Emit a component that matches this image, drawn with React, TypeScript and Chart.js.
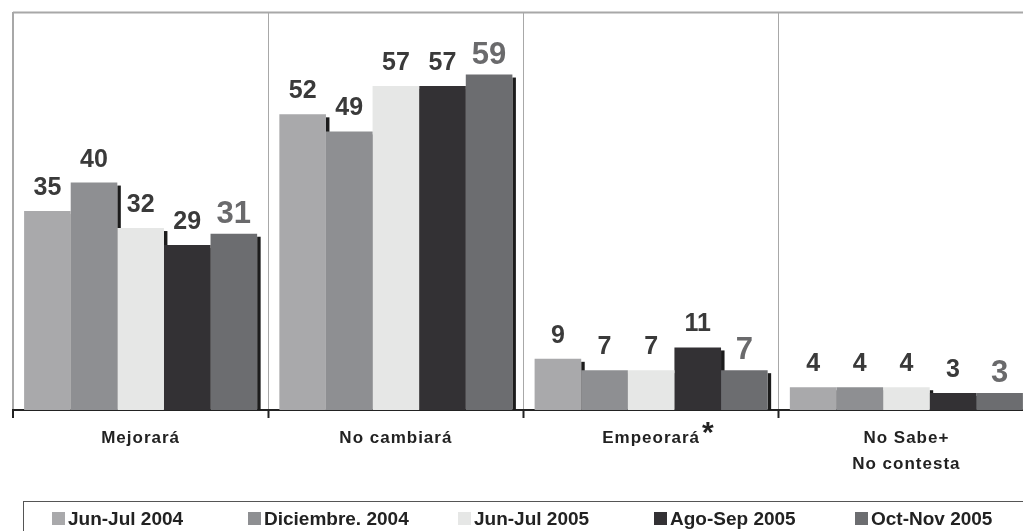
import React, { useEffect, useRef } from 'react';
import { Chart, registerables } from 'chart.js';

Chart.register(...registerables);

const FONT = '"Liberation Sans", Arial, Helvetica, sans-serif';

const categories: string[][] = [['Mejorará'], ['No cambiará'], ['Empeorará'], ['No Sabe+', 'No contesta']];
const seriesNames = ['Jun-Jul 2004', 'Diciembre. 2004', 'Jun-Jul 2005', 'Ago-Sep 2005', 'Oct-Nov 2005'];
const junJul2004 = [35, 52, 9, 4];
const diciembre2004 = [40, 49, 7, 4];
const junJul2005 = [32, 57, 7, 4];
const agoSep2005 = [29, 57, 11, 3];
const octNov2005 = [31, 59, 7, 3];
const seriesValues = [junJul2004, diciembre2004, junJul2005, agoSep2005, octNov2005];
const seriesColors = ['#a9a9ab', '#8e8f92', '#e6e7e6', '#333134', '#6c6d70'];
const asteriskCategory = 2;

const legendLeft = [52, 248, 458, 654, 855];

const shadowPlugin = {
  id: 'barShadow',
  beforeDraw(chart: any) {
    chart.ctx.letterSpacing = '1px';
  },
  beforeDatasetsDraw(chart: any) {
    const ctx = chart.ctx;
    ctx.letterSpacing = '0px';
    ctx.save();
    const a = chart.chartArea;
    ctx.strokeStyle = '#a8a8a8';
    ctx.lineWidth = 2;
    ctx.beginPath();
    ctx.moveTo(a.left, a.top + 0.5);
    ctx.lineTo(a.right, a.top + 0.5);
    ctx.stroke();
    ctx.fillStyle = '#1c1c1c';
    chart.data.datasets.forEach((_ds: any, i: number) => {
      const meta = chart.getDatasetMeta(i);
      meta.data.forEach((bar: any) => {
        const { x, y, width, base } = bar.getProps(['x', 'y', 'width', 'base'], true);
        ctx.fillRect(x + width / 2, y + 3, 3.5, base - y - 3);
      });
    });
    ctx.restore();
  },
  afterDatasetsDraw(chart: any) {
    const ctx = chart.ctx;
    ctx.save();
    ctx.letterSpacing = '0px';
    ctx.textAlign = 'center';
    ctx.textBaseline = 'alphabetic';
    chart.data.datasets.forEach((ds: any, i: number) => {
      const meta = chart.getDatasetMeta(i);
      const last = i === chart.data.datasets.length - 1;
      ctx.font = last ? `bold 31px ${FONT}` : `bold 25px ${FONT}`;
      ctx.fillStyle = last ? '#6a6a6c' : '#3a3a3a';
      meta.data.forEach((bar: any, j: number) => {
        const { x, y } = bar.getProps(['x', 'y'], true);
        ctx.fillText(String(ds.data[j]), x, y - (last ? 11 : 16));
      });
    });
    const xs = chart.scales.x;
    const cx = xs.getPixelForValue(asteriskCategory);
    ctx.font = `bold 17px ${FONT}`;
    ctx.letterSpacing = '1px';
    const w = ctx.measureText(categories[asteriskCategory][0]).width;
    ctx.letterSpacing = '0px';
    ctx.font = `bold 30px ${FONT}`;
    ctx.fillStyle = '#222';
    ctx.textAlign = 'left';
    ctx.fillText('*', cx + w / 2 + 2, 442);
    ctx.restore();
  },
};

export default function App() {
  const ref = useRef<HTMLCanvasElement>(null);

  useEffect(() => {
    if (!ref.current) return;
    const chart = new Chart(ref.current, {
      type: 'bar',
      data: {
        labels: categories,
        datasets: seriesNames.map((name, i) => ({
          label: name,
          data: seriesValues[i],
          backgroundColor: seriesColors[i],
          borderWidth: 0,
          categoryPercentage: 0.913,
          barPercentage: 1,
        })),
      },
      options: {
        animation: false,
        responsive: false,
        maintainAspectRatio: false,
        layout: { padding: { left: 13, top: 12, right: 6, bottom: 47 } },
        plugins: { legend: { display: false }, tooltip: { enabled: false } },
        scales: {
          x: {
            offset: true,
            grid: {
              offset: true,
              color: '#a8a8a8',
              lineWidth: (c: any) => (c.index === 0 ? 2 : 1),
              tickColor: '#222',
              tickWidth: 2,
              tickLength: 8,
            },
            border: { display: true, color: '#222', width: 2 },
            ticks: {
              color: '#222',
              font: { family: FONT, size: 17, weight: 'bold', lineHeight: 1.53 },
              padding: 7,
              maxRotation: 0,
              autoSkip: false,
            },
          },
          y: { display: false, min: 0, max: 70 },
        },
      } as any,
      plugins: [shadowPlugin],
    });
    return () => chart.destroy();
  }, []);

  return (
    <div
      style={{
        position: 'fixed',
        left: 0,
        top: 0,
        width: 1023,
        height: 531,
        overflow: 'hidden',
        background: '#fff',
      }}
    >
      <canvas
        ref={ref}
        width={1040}
        height={531}
        style={{ position: 'absolute', left: 0, top: 0, width: 1040, height: 531 }}
      />
      <div
        style={{
          position: 'absolute',
          left: 23,
          top: 501,
          width: 1100,
          height: 60,
          borderTop: '1px solid #555',
          borderLeft: '1px solid #555',
        }}
      />
      {seriesNames.map((name, i) => (
        <React.Fragment key={name}>
          <div
            style={{
              position: 'absolute',
              left: legendLeft[i],
              top: 512,
              width: 13,
              height: 13,
              background: seriesColors[i],
            }}
          />
          <div
            style={{
              position: 'absolute',
              left: legendLeft[i] + 16,
              top: 509,
              fontFamily: FONT,
              fontWeight: 'bold',
              fontSize: 19,
              lineHeight: '19px',
              color: '#222',
              whiteSpace: 'nowrap',
            }}
          >
            {name}
          </div>
        </React.Fragment>
      ))}
    </div>
  );
}
